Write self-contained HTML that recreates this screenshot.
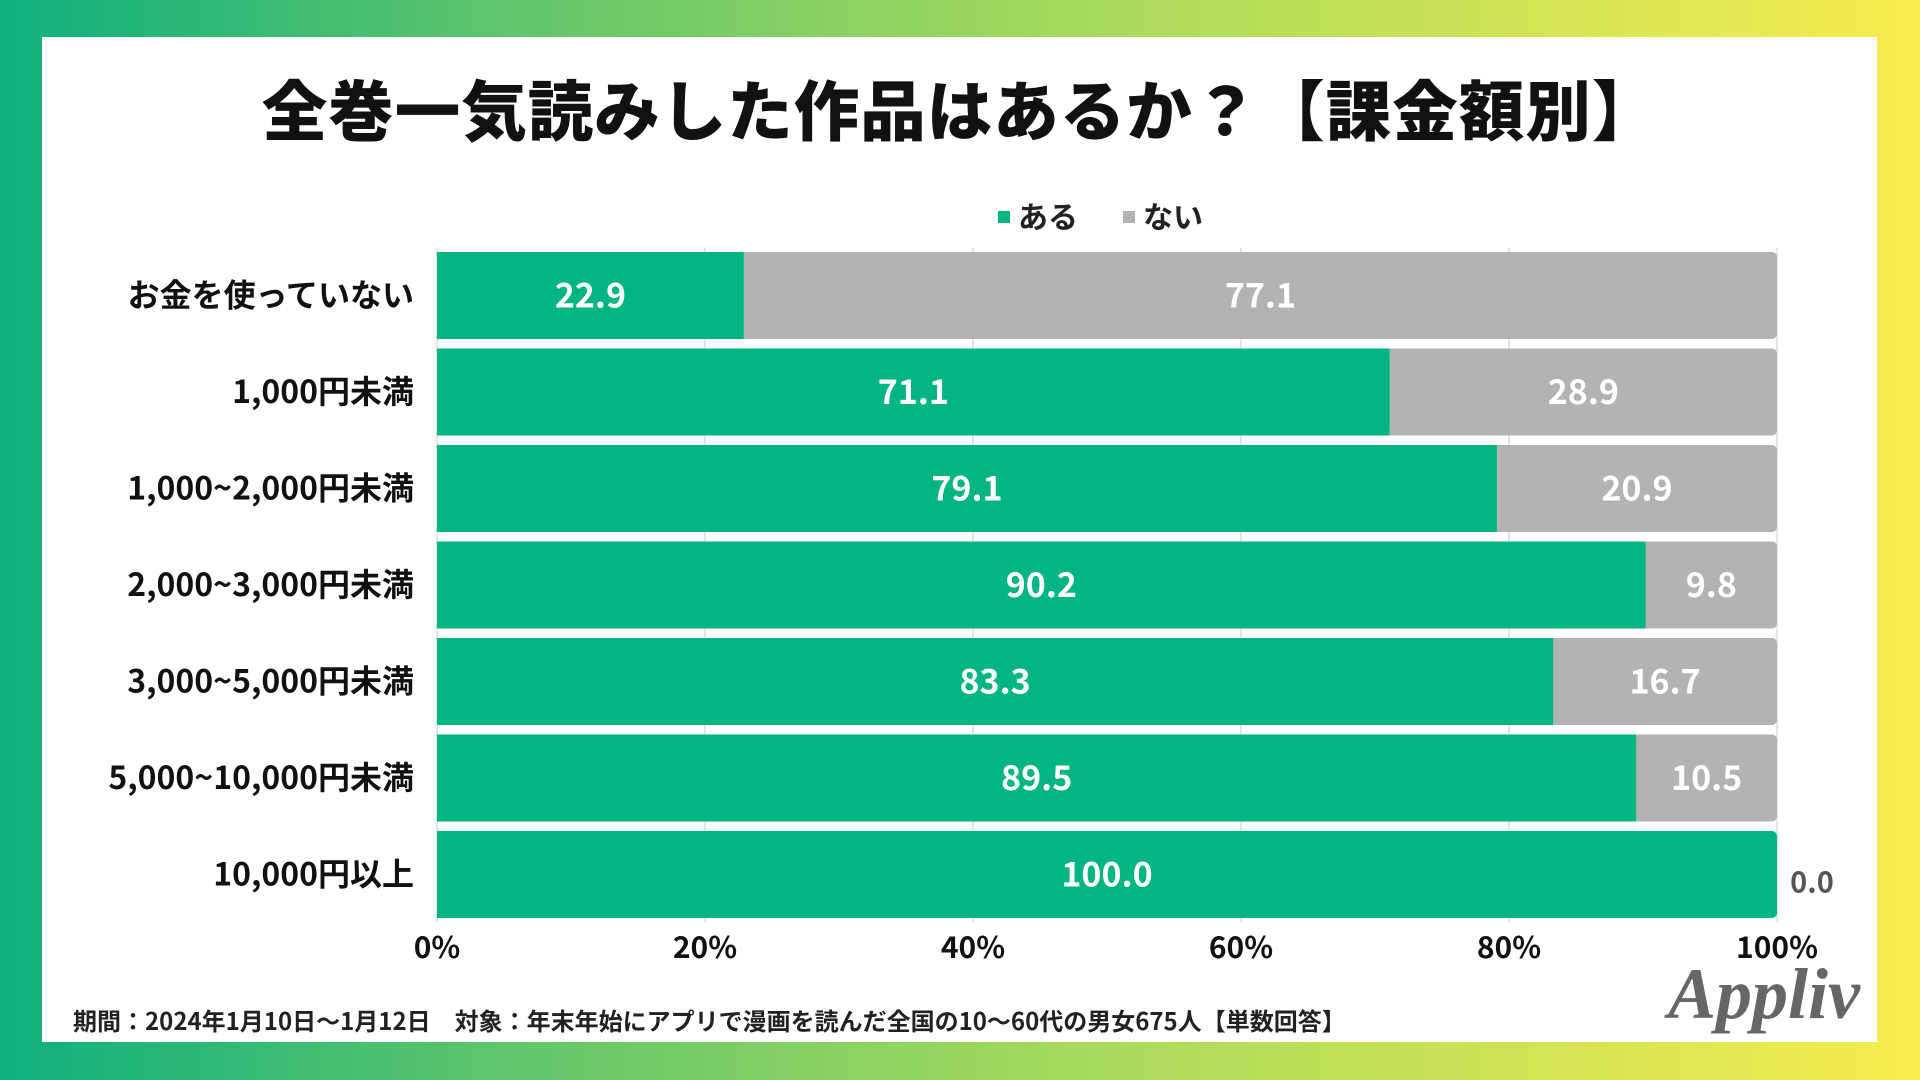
<!DOCTYPE html>
<html><head><meta charset="utf-8"><style>
body{margin:0;width:1920px;height:1080px;overflow:hidden;font-family:"Noto Sans CJK JP",sans-serif;}
#bg{position:absolute;left:0;top:0;width:1920px;height:1080px;background:linear-gradient(90deg,#0db07e 0%,#5cc46c 25%,#a4d95c 55%,#f7ec4e 100%);}
#panel{position:absolute;left:42px;top:37px;width:1835px;height:1005px;background:#fff;}
#title{position:absolute;left:0;width:1920px;top:59px;text-align:center;font-size:65.5px;font-weight:900;color:#111;letter-spacing:1px;font-family:"Noto Sans CJK JP",sans-serif;}
#footer{position:absolute;left:73px;top:1002px;font-size:24px;font-weight:bold;color:#222;font-family:"Noto Sans CJK JP",sans-serif;}
#logo{position:absolute;left:1668px;top:953px;font-family:"Liberation Serif",serif;font-style:italic;font-weight:bold;font-size:72px;color:#666;}
svg{position:absolute;left:0;top:0;}
svg text{font-family:"Noto Sans CJK JP",sans-serif;font-weight:bold;}
</style></head><body>
<div id="bg"></div>
<div id="panel"></div>
<div id="title">全巻一気読みした作品はあるか？【課金額別】</div>
<svg id="chart" width="1920" height="1080"></svg>
<div id="footer">期間：2024年1月10日～1月12日　対象：年末年始にアプリで漫画を読んだ全国の10～60代の男女675人【単数回答】</div>
<div id="logo">Appliv</div>
<script>
const categories=["お金を使っていない","1,000円未満","1,000~2,000円未満","2,000~3,000円未満","3,000~5,000円未満","5,000~10,000円未満","10,000円以上"];
const aruValues=[22.9,71.1,79.1,90.2,83.3,89.5,100.0];
const naiValues=[77.1,28.9,20.9,9.8,16.7,10.5,0.0];
const tickValues=[0,20,40,60,80,100];
const tickLabels=["0%","20%","40%","60%","80%","100%"];
const legendLabels=["ある","ない"];

const NS="http://www.w3.org/2000/svg";
const svg=document.getElementById('chart');
const X0=437,X1=1777,TOP=252,PITCH=96.5,BH=87;
const xs=v=>X0+(X1-X0)*v/100;
const ys=i=>TOP+i*PITCH;
const GREEN="#03b580",GRAY="#b3b3b3";
function mk(tag,attrs,txt){const e=document.createElementNS(NS,tag);for(const k in attrs)e.setAttribute(k,attrs[k]);if(txt!==undefined)e.textContent=txt;svg.appendChild(e);return e;}
tickValues.forEach((t,i)=>{
  const g=mk('line',{x1:xs(t),x2:xs(t),y1:TOP-4,y2:ys(categories.length-1)+BH+4,stroke:'#dcdcdc','stroke-width':1.5});
  
  
  const l=mk('text',{x:xs(t),y:958,'text-anchor':'middle','font-size':30,fill:'#111'},tickLabels[i]);
  
  
});
categories.forEach((c,i)=>{
  const y=ys(i),a=aruValues[i],n=naiValues[i];
  const cy=y+BH/2;
  const lab=mk('text',{x:414,y:cy+11,'text-anchor':'end','font-size':32,fill:'#111'},c);
  
  
  if(n>0){
    const r=mk('rect',{x:xs(a),y:y,width:xs(a+n)-xs(a),height:BH,fill:GRAY,rx:5});
    
    
    const r2=mk('rect',{x:xs(a),y:y,width:Math.min(10,xs(a+n)-xs(a)),height:BH,fill:GRAY});
    
    
  }
  const g=mk('rect',{x:xs(0),y:y,width:xs(a)-xs(0),height:BH,fill:GREEN,rx:n>0?0:5});
  
  
  if(n===0){const g2=mk('rect',{x:xs(0),y:y,width:10,height:BH,fill:GREEN});
    
    }
  const t=mk('text',{x:(xs(0)+xs(a))/2,y:cy+12,'text-anchor':'middle','font-size':34,fill:'#fff'},a.toFixed(1));
  
  
  if(n>0){
    const t2=mk('text',{x:(xs(a)+xs(a+n))/2,y:cy+12,'text-anchor':'middle','font-size':34,fill:'#fff'},n.toFixed(1));
    
    
  }else{
    const t2=mk('text',{x:xs(100)+35,y:cy+18,'text-anchor':'middle','font-size':29,fill:'#555'},n.toFixed(1));
    
    
  }
});
const lg=[[998,GREEN],[1123,GRAY]];
legendLabels.forEach((s,i)=>{
  const r=mk('rect',{x:lg[i][0],y:211,width:12,height:12,fill:lg[i][1]});
  
  
  const t=mk('text',{x:lg[i][0]+20,y:228,'font-size':30,fill:'#222'},s);
  
  
});
</script>
</body></html>
